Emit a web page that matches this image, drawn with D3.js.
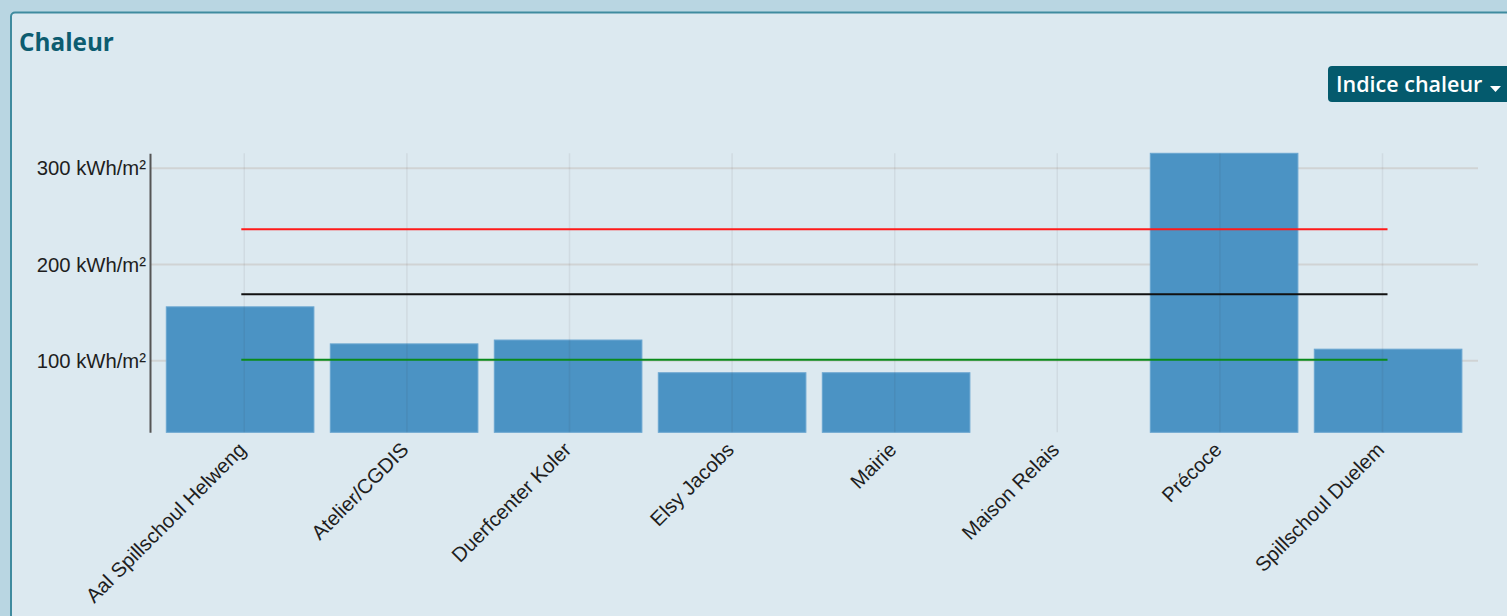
<!DOCTYPE html>
<html>
<head>
<meta charset="utf-8">
<script src="https://d3js.org/d3.v7.min.js"></script>
<style>
    body { margin: 0; background: #b9d6e2; overflow: hidden; }
    .tick-label { font-family: "Liberation Sans", Arial, sans-serif; font-size: 20.3px; fill: #1e1e1e; }
</style>
</head>
<body>
<div id="vis-container"></div>
<script>
// Chart data
var categories = ["Aal Spillschoul Helweng", "Atelier/CGDIS", "Duerfcenter Koler", "Elsy Jacobs",
    "Mairie", "Maison Relais", "Précoce", "Spillschoul Duelem"];
var heatValues = [156, 117.5, 121.5, 87.5, 87.5, null, 330, 112];
var yTicks = [100, 200, 300];
var refLines = [
    { value: 236.6, color: "#ff1a1a" },
    { value: 169, color: "#111111" },
    { value: 101, color: "#0a8a1a" }
];

var width = 1507;
var height = 616;

var svg = d3.select("#vis-container").append("svg")
    .attr("width", width)
    .attr("height", height);

// panel
svg.append("rect")
    .attr("x", 11).attr("y", 12.5)
    .attr("width", width + 20).attr("height", height)
    .attr("rx", 4)
    .attr("fill", "#dce9f0")
    .attr("stroke", "#3f8b9f")
    .attr("stroke-width", 2);

svg.append("text")
    .text("Chaleur")
    .attr("x", 19).attr("y", 51)
    .attr("font-family", "'Open Sans', sans-serif")
    .attr("font-weight", "bold")
    .attr("font-size", 24.3)
    .attr("fill", "#0c5c70");

// dropdown button
var btn = svg.append("g");
btn.append("rect")
    .attr("x", 1328).attr("y", 66)
    .attr("width", 200).attr("height", 36)
    .attr("rx", 4)
    .attr("fill", "#045a6d");
btn.append("text")
    .text("Indice chaleur")
    .attr("x", 1336).attr("y", 91.5)
    .attr("font-family", "'Open Sans', sans-serif")
    .attr("font-weight", 600)
    .attr("font-size", 21.5)
    .attr("fill", "#fff");
btn.append("path")
    .attr("d", "M1490,86 L1501,86 L1495.5,92 Z")
    .attr("fill", "#fff");

// scales
var x = d3.scaleBand().domain(categories)
    .range([158.1, 1470.1])
    .paddingInner(0.1)
    .paddingOuter(0.05);
var xGrid = d3.scalePoint().domain(categories).range([244.3, 1382.5]);
var y = d3.scaleLinear().domain([25.6, 315.6]).range([432.3, 153.3]).clamp(true);

var plot = svg.append("g");

// horizontal grid
plot.selectAll(".hgrid").data(yTicks).enter().append("line")
    .attr("class", "hgrid")
    .attr("x1", 150).attr("x2", 1478)
    .attr("y1", function (d) { return y(d); })
    .attr("y2", function (d) { return y(d); })
    .attr("stroke", "#d0d3d4")
    .attr("stroke-width", 2);

// bars
plot.selectAll(".bar").data(categories.map(function (c, i) {
    return { name: c, value: heatValues[i] };
}).filter(function (d) { return d.value != null; }))
    .enter().append("rect")
    .attr("class", "bar")
    .attr("x", function (d) { return x(d.name); })
    .attr("width", x.bandwidth())
    .attr("y", function (d) { return y(d.value); })
    .attr("height", function (d) { return y.range()[0] - y(d.value); })
    .attr("fill", "#4b93c4")
    .attr("stroke", "#6aa6d0")
    .attr("stroke-width", 1);

// vertical grid, on top of the bars
plot.selectAll(".vgrid").data(categories).enter().append("line")
    .attr("class", "vgrid")
    .attr("x1", function (d) { return xGrid(d); })
    .attr("x2", function (d) { return xGrid(d); })
    .attr("y1", y.range()[1]).attr("y2", y.range()[0])
    .attr("stroke", "rgba(60,40,40,0.07)")
    .attr("stroke-width", 1.5);

// reference lines
var first = categories[0], last = categories[categories.length - 1];
plot.selectAll(".ref").data(refLines).enter().append("line")
    .attr("class", "ref")
    .attr("x1", xGrid(first) - 3).attr("x2", xGrid(last) + 5)
    .attr("y1", function (d) { return y(d.value); })
    .attr("y2", function (d) { return y(d.value); })
    .attr("stroke", function (d) { return d.color; })
    .attr("stroke-width", 2);

// y axis
var yAxis = plot.append("g")
    .attr("transform", "translate(150,0)")
    .call(d3.axisLeft(y).tickValues(yTicks).tickSize(0).tickPadding(4)
        .tickFormat(function (d) { return d + " kWh/m²"; }));
yAxis.select(".domain").attr("stroke", "#555").attr("stroke-width", 2);
yAxis.selectAll("text").attr("class", "tick-label").attr("fill", null).attr("font-size", null).attr("font-family", null);

// x labels
plot.selectAll(".xlab").data(categories).enter().append("text")
    .attr("class", "tick-label")
    .attr("text-anchor", "end")
    .attr("transform", function (d) {
        return "translate(" + (xGrid(d) + 3) + ",451) rotate(-45)";
    })
    .text(function (d) { return d; });
</script>
</body>
</html>
